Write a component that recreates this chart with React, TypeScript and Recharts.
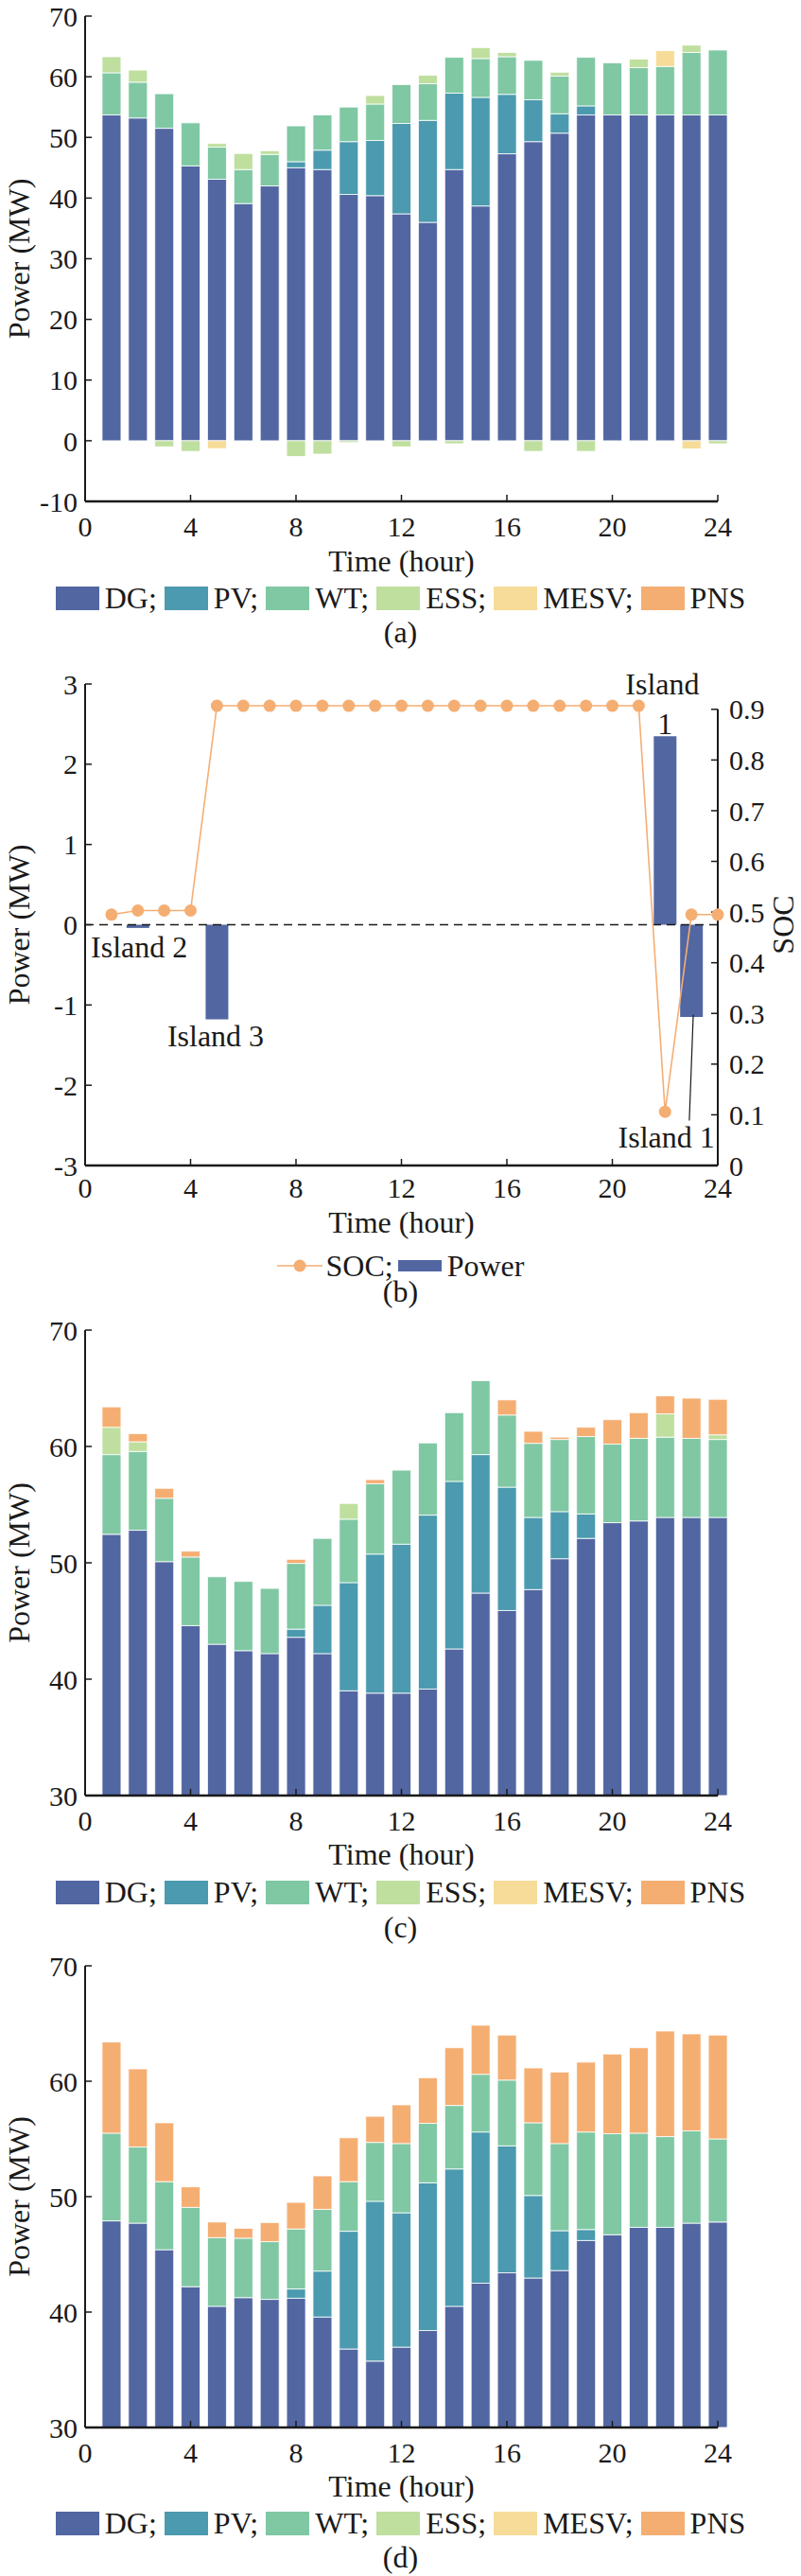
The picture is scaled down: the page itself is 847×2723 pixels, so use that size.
import React from 'react';
import {
  ComposedChart,
  Bar,
  Line,
  XAxis,
  YAxis,
  ReferenceLine,
  ReferenceDot,
} from 'recharts';

const FONT = "'Liberation Serif', 'Times New Roman', serif";
const INK = '#1a1a1a';
const PAGE_W = 847;
const PLOT_LEFT = 90;
const HOUR_PX = 27.875; // 669px for 24 h
const PAD_TOP = 20;

const HOURS = [1, 2, 3, 4, 5, 6, 7, 8, 9, 10, 11, 12, 13, 14, 15, 16, 17, 18, 19, 20, 21, 22, 23, 24];
const X_TICKS = [0, 4, 8, 12, 16, 20, 24];
const SERIES = ['DG', 'PV', 'WT', 'ESS', 'MESV', 'PNS'];
const COLORS = ['#5266A2', '#4B9AAF', '#7FC8A3', '#BFDF9F', '#F6DC98', '#F5AE72'];

// (a)
const DG_A = [53.7, 53.2, 51.5, 45.3, 43.1, 39.1, 42.0, 45.0, 44.7, 40.6, 40.4, 37.4, 36.0, 44.7, 38.7, 47.3, 49.3, 50.7, 53.7, 53.7, 53.7, 53.7, 53.7, 53.7];
const PV_A = [0, 0, 0, 0, 0, 0, 0, 1.0, 3.2, 8.7, 9.1, 14.9, 16.8, 12.6, 17.9, 9.8, 6.9, 3.2, 1.5, 0, 0, 0, 0, 0];
const WT_A = [6.95, 5.9, 5.7, 7.1, 5.3, 5.6, 5.2, 5.9, 5.8, 5.7, 6.0, 6.4, 6.05, 5.9, 6.4, 6.2, 6.5, 6.2, 8.0, 8.6, 7.8, 8.0, 10.3, 10.7];
const ESS_A = [2.65, 2.0, -1.0, -1.75, 0.6, 2.65, 0.6, -2.6, -2.2, -0.3, 1.4, -1.0, 1.4, -0.5, 1.8, 0.7, -1.75, 0.65, -1.75, 0, 1.4, 0, 1.2, -0.5];
const MESV_A = [0, 0, 0, 0, -1.3, 0, 0, 0, 0, 0, 0, 0, 0, 0, 0, 0, 0, 0, 0, 0, 0, 2.6, -1.35, 0];
const PNS_A = [0, 0, 0, 0, 0, 0, 0, 0, 0, 0, 0, 0, 0, 0, 0, 0, 0, 0, 0, 0, 0, 0, 0, 0];
const Y_TICKS_A = [-10, 0, 10, 20, 30, 40, 50, 60, 70];

// (b)
const POWER_B = [0, -0.04, 0, 0, -1.18, 0, 0, 0, 0, 0, 0, 0, 0, 0, 0, 0, 0, 0, 0, 0, 0, 2.35, -1.15, 0];
const SOC_B = [0.495, 0.503, 0.503, 0.503, 0.907, 0.907, 0.907, 0.907, 0.907, 0.907, 0.907, 0.907, 0.907, 0.907, 0.907, 0.907, 0.907, 0.907, 0.907, 0.907, 0.907, 0.106, 0.495, 0.495];
const Y_TICKS_B = [-3, -2, -1, 0, 1, 2, 3];
const SOC_TICKS = [0, 0.1, 0.2, 0.3, 0.4, 0.5, 0.6, 0.7, 0.8, 0.9];

// (c)
const DG_C = [52.45, 52.8, 50.1, 44.6, 43.0, 42.45, 42.2, 43.6, 42.2, 39.0, 38.8, 38.8, 39.15, 42.6, 47.4, 45.9, 47.7, 50.35, 52.1, 53.45, 53.6, 53.9, 53.9, 53.9];
const PV_C = [0, 0, 0, 0, 0, 0, 0, 0.7, 4.15, 9.3, 11.95, 12.8, 14.95, 14.4, 11.9, 10.6, 6.2, 4.05, 2.1, 0, 0, 0, 0, 0];
const WT_C = [6.85, 6.77, 5.45, 5.9, 5.8, 5.95, 5.6, 5.65, 5.75, 5.45, 6.05, 6.36, 6.2, 5.9, 6.35, 6.2, 6.37, 6.2, 6.65, 6.75, 7.1, 6.9, 6.8, 6.7];
const ESS_C = [2.35, 0.83, 0, 0, 0, 0, 0, 0, 0, 1.35, 0, 0, 0, 0, 0, 0, 0, 0, 0, 0, 0, 2.0, 0, 0.4];
const MESV_C = [0, 0, 0, 0, 0, 0, 0, 0, 0, 0, 0, 0, 0, 0, 0, 0, 0, 0, 0, 0, 0, 0, 0, 0];
const PNS_C = [1.75, 0.7, 0.85, 0.5, 0, 0, 0, 0.35, 0, 0, 0.35, 0, 0, 0, 0, 1.3, 1.03, 0.2, 0.8, 2.1, 2.2, 1.55, 3.45, 3.05];

// (d)
const DG_D = [47.9, 47.7, 45.4, 42.2, 40.5, 41.25, 41.1, 41.2, 39.57, 36.8, 35.75, 36.96, 38.4, 40.5, 42.5, 43.4, 42.95, 43.6, 46.2, 46.7, 47.34, 47.34, 47.7, 47.8];
const PV_D = [0, 0, 0, 0, 0, 0, 0, 0.8, 3.98, 10.2, 13.85, 11.64, 12.8, 11.9, 13.1, 11.0, 7.15, 3.45, 0.95, 0, 0, 0, 0, 0];
const WT_D = [7.6, 6.6, 5.9, 6.87, 5.95, 5.15, 5.0, 5.2, 5.35, 4.3, 5.1, 6.0, 5.15, 5.5, 5.0, 5.7, 6.3, 7.55, 8.45, 8.75, 8.16, 7.86, 8.0, 7.2];
const ESS_D = [0, 0, 0, 0, 0, 0, 0, 0, 0, 0, 0, 0, 0, 0, 0, 0, 0, 0, 0, 0, 0, 0, 0, 0];
const MESV_D = [0, 0, 0, 0, 0, 0, 0, 0, 0, 0, 0, 0, 0, 0, 0, 0, 0, 0, 0, 0, 0, 0, 0, 0];
const PNS_D = [7.9, 6.77, 5.1, 1.78, 1.35, 0.86, 1.65, 2.3, 2.9, 3.8, 2.26, 3.35, 3.95, 5.0, 4.25, 3.9, 4.75, 6.2, 6.05, 6.91, 7.4, 9.15, 8.4, 9.0];
const Y_TICKS_CD = [30, 40, 50, 60, 70];

const tickStyle = { fill: INK, fontSize: 30, fontFamily: FONT };

const yTitle = (cx: number, cy: number, text: string, angle = -90) => () => (
  <text
    x={cx}
    y={cy}
    transform={`rotate(${angle} ${cx} ${cy})`}
    textAnchor="middle"
    dominantBaseline="central"
    fontFamily={FONT}
    fontSize={32}
    fill={INK}
  >
    {text}
  </text>
);

const xTitle = (cy: number) => () => (
  <text
    x={PLOT_LEFT + 12 * HOUR_PX}
    y={cy}
    textAnchor="middle"
    dominantBaseline="central"
    fontFamily={FONT}
    fontSize={32}
    fill={INK}
  >
    Time (hour)
  </text>
);

function Caption({ y, text }: { y: number; text: string }) {
  return (
    <div
      style={{
        position: 'absolute',
        left: 0,
        width: PAGE_W,
        top: y - 18,
        height: 36,
        lineHeight: '36px',
        textAlign: 'center',
        fontFamily: FONT,
        fontSize: 32,
        color: INK,
      }}
    >
      {text}
    </div>
  );
}

function SeriesLegend({ y }: { y: number }) {
  return (
    <div
      style={{
        position: 'absolute',
        left: 0,
        width: PAGE_W,
        top: y - 17,
        height: 34,
        display: 'flex',
        justifyContent: 'center',
        alignItems: 'center',
        fontFamily: FONT,
        fontSize: 32,
        color: INK,
      }}
    >
      {SERIES.map((name, i) => (
        <React.Fragment key={name}>
          <span
            style={{
              display: 'inline-block',
              width: 46,
              height: 25,
              background: COLORS[i],
              marginLeft: i ? 8 : 0,
              marginRight: 6,
            }}
          />
          <span>{name + (i < SERIES.length - 1 ? ';' : '')}</span>
        </React.Fragment>
      ))}
    </div>
  );
}

interface StackPanelProps {
  plotTop: number;
  plotH: number;
  yDomain: [number, number];
  yTicks: number[];
  clip: boolean;
  values: number[][];
  caption: string;
  tickGap: number;
  titleGap: number;
  legendGap: number;
  captionGap: number;
}

function StackPanel(p: StackPanelProps) {
  const xMax = 24.4;
  const rightMargin = PAGE_W - PLOT_LEFT - xMax * HOUR_PX;
  const rows = HOURS.map((h, i) => {
    const row: Record<string, number> = { hour: h };
    SERIES.forEach((s, k) => {
      row[s] = p.values[k][i];
    });
    return row;
  });
  const plotBottom = p.plotTop + p.plotH;
  return (
    <>
      <div style={{ position: 'absolute', left: 0, top: p.plotTop - PAD_TOP }}>
        <ComposedChart
          width={PAGE_W}
          height={PAD_TOP + p.plotH + 82}
          data={rows}
          stackOffset="sign"
          margin={{ top: PAD_TOP, right: rightMargin, bottom: 0, left: 0 }}
        >
          <XAxis
            dataKey="hour"
            type="number"
            domain={[0, xMax]}
            ticks={X_TICKS}
            interval={0}
            height={82}
            axisLine={false}
            tickSize={-7}
            tickMargin={p.tickGap}
            tickLine={{ stroke: INK, strokeWidth: 1.5 }}
            tick={tickStyle}
            label={xTitle(PAD_TOP + p.plotH + p.titleGap)}
          />
          <YAxis
            type="number"
            domain={p.yDomain}
            ticks={p.yTicks}
            interval={0}
            allowDataOverflow={p.clip}
            width={PLOT_LEFT}
            tickSize={-7}
            tickMargin={15}
            axisLine={{ stroke: INK, strokeWidth: 2 }}
            tickLine={{ stroke: INK, strokeWidth: 1.5 }}
            tick={tickStyle}
            label={yTitle(20, PAD_TOP + p.plotH / 2, 'Power (MW)')}
          />
          {SERIES.map((s, k) => (
            <Bar
              key={s}
              dataKey={s}
              stackId="p"
              fill={COLORS[k]}
              stroke="#ffffff"
              strokeWidth={0.8}
              barSize={20}
              isAnimationActive={false}
            />
          ))}
          <ReferenceLine
            segment={[
              { x: 0, y: p.yDomain[0] },
              { x: 24, y: p.yDomain[0] },
            ]}
            stroke={INK}
            strokeWidth={2.5}
            ifOverflow="visible"
          />
        </ComposedChart>
      </div>
      <SeriesLegend y={plotBottom + p.legendGap} />
      <Caption y={plotBottom + p.captionGap} text={p.caption} />
    </>
  );
}

function SocPanel() {
  const plotTop = 723;
  const plotH = 509;
  const plotBottom = plotTop + plotH;
  const socColor = COLORS[5];
  const rows = HOURS.map((h, i) => ({ hour: h, power: POWER_B[i], soc: SOC_B[i] }));
  const note = (text: string) => ({
    value: text,
    position: 'center' as const,
    fontSize: 32,
    fontFamily: FONT,
    fill: INK,
  });
  return (
    <>
      <div style={{ position: 'absolute', left: 0, top: plotTop - PAD_TOP }}>
        <ComposedChart
          width={PAGE_W}
          height={PAD_TOP + plotH + 80}
          data={rows}
          margin={{ top: PAD_TOP, right: 0, bottom: 0, left: 0 }}
        >
          <XAxis
            dataKey="hour"
            type="number"
            domain={[0, 24]}
            ticks={X_TICKS}
            interval={0}
            height={80}
            axisLine={{ stroke: INK, strokeWidth: 2.5 }}
            tickSize={-7}
            tickMargin={20}
            tickLine={{ stroke: INK, strokeWidth: 1.5 }}
            tick={tickStyle}
            label={xTitle(PAD_TOP + plotH + 60)}
          />
          <YAxis
            yAxisId="pw"
            type="number"
            domain={[-3, 3]}
            ticks={Y_TICKS_B}
            interval={0}
            width={PLOT_LEFT}
            tickSize={-7}
            tickMargin={15}
            axisLine={{ stroke: INK, strokeWidth: 2 }}
            tickLine={{ stroke: INK, strokeWidth: 1.5 }}
            tick={tickStyle}
            label={yTitle(20, PAD_TOP + plotH / 2, 'Power (MW)')}
          />
          <YAxis
            yAxisId="soc"
            orientation="right"
            type="number"
            domain={[0, 0.95]}
            ticks={SOC_TICKS}
            interval={0}
            width={PAGE_W - PLOT_LEFT - 24 * HOUR_PX}
            tickSize={-7}
            tickMargin={19}
            axisLine={false}
            tickLine={{ stroke: INK, strokeWidth: 1.5 }}
            tick={tickStyle}
            tickFormatter={(v: number) => (v === 0 ? '0' : v.toFixed(1))}
            label={yTitle(828, PAD_TOP + plotH / 2, 'SOC')}
          />
          <ReferenceLine
            yAxisId="soc"
            segment={[
              { x: 24, y: 0 },
              { x: 24, y: 0.9 },
            ]}
            stroke={INK}
            strokeWidth={2}
            ifOverflow="visible"
          />
          <ReferenceLine
            yAxisId="pw"
            segment={[
              { x: 0, y: 0 },
              { x: 24, y: 0 },
            ]}
            stroke={INK}
            strokeWidth={1.5}
            strokeDasharray="9 6"
          />
          <Bar
            yAxisId="pw"
            dataKey="power"
            fill={COLORS[0]}
            barSize={24}
            isAnimationActive={false}
          />
          <Line
            yAxisId="soc"
            dataKey="soc"
            type="linear"
            stroke={socColor}
            strokeWidth={1.6}
            dot={{ r: 6.5, fill: socColor, stroke: socColor, strokeWidth: 0 }}
            isAnimationActive={false}
          />
          <ReferenceLine
            yAxisId="pw"
            segment={[
              { x: 22.92, y: -2.44 },
              { x: 23.07, y: -1.12 },
            ]}
            stroke={INK}
            strokeWidth={1.2}
            ifOverflow="visible"
          />
          <ReferenceDot yAxisId="pw" x={21.9} y={3.0} r={0} ifOverflow="visible" label={note('Island')} />
          <ReferenceDot yAxisId="pw" x={22.0} y={2.51} r={0} ifOverflow="visible" label={note('1')} />
          <ReferenceDot yAxisId="pw" x={2.05} y={-0.27} r={0} ifOverflow="visible" label={note('Island 2')} />
          <ReferenceDot yAxisId="pw" x={4.95} y={-1.38} r={0} ifOverflow="visible" label={note('Island 3')} />
          <ReferenceDot yAxisId="pw" x={22.05} y={-2.64} r={0} ifOverflow="visible" label={note('Island 1')} />
        </ComposedChart>
      </div>
      <div
        style={{
          position: 'absolute',
          left: 0,
          width: PAGE_W,
          top: plotBottom + 106 - 15,
          height: 30,
          display: 'flex',
          justifyContent: 'center',
          alignItems: 'center',
          fontFamily: FONT,
          fontSize: 32,
          color: INK,
        }}
      >
        <svg width={48} height={16}>
          <line x1={0} y1={8} x2={48} y2={8} stroke={socColor} strokeWidth={1.5} />
          <circle cx={24} cy={8} r={6.5} fill={socColor} />
        </svg>
        <span style={{ marginLeft: 4 }}>SOC;</span>
        <span
          style={{
            display: 'inline-block',
            width: 46,
            height: 12,
            background: COLORS[0],
            marginLeft: 5,
            marginRight: 6,
          }}
        />
        <span>Power</span>
      </div>
      <Caption y={plotBottom + 133} text="(b)" />
    </>
  );
}

export default function App() {
  return (
    <div
      style={{
        position: 'absolute',
        left: 0,
        top: 0,
        width: PAGE_W,
        height: 2723,
        background: '#ffffff',
        overflow: 'hidden',
      }}
    >
      <StackPanel
        plotTop={17}
        plotH={513}
        yDomain={[-10, 70]}
        yTicks={Y_TICKS_A}
        clip={false}
        values={[DG_A, PV_A, WT_A, ESS_A, MESV_A, PNS_A]}
        caption="(a)"
        tickGap={23}
        titleGap={63}
        legendGap={102}
        captionGap={138}
      />
      <SocPanel />
      <StackPanel
        plotTop={1406}
        plotH={492}
        yDomain={[30, 70]}
        yTicks={Y_TICKS_CD}
        clip={true}
        values={[DG_C, PV_C, WT_C, ESS_C, MESV_C, PNS_C]}
        caption="(c)"
        tickGap={23}
        titleGap={62}
        legendGap={102}
        captionGap={139}
      />
      <StackPanel
        plotTop={2078}
        plotH={488}
        yDomain={[30, 70]}
        yTicks={Y_TICKS_CD}
        clip={true}
        values={[DG_D, PV_D, WT_D, ESS_D, MESV_D, PNS_D]}
        caption="(d)"
        tickGap={23}
        titleGap={62}
        legendGap={101}
        captionGap={137}
      />
    </div>
  );
}
